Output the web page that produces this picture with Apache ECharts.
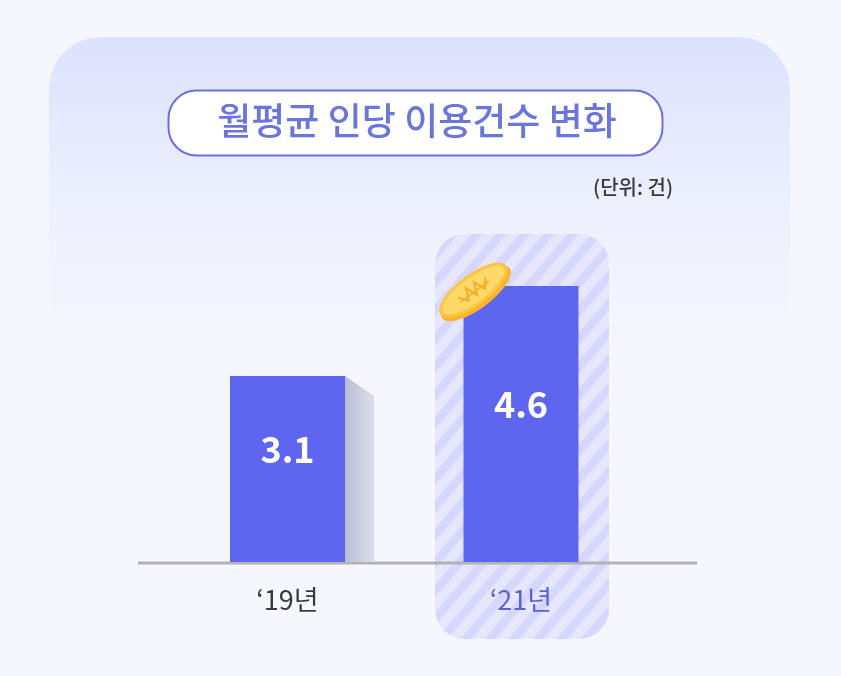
<!DOCTYPE html>
<html>
<head>
<meta charset="utf-8">
<style>
html,body{margin:0;padding:0;background:#f6f7fe;}
#chart{width:841px;height:676px;}
</style>
<script src="https://cdn.jsdelivr.net/npm/echarts@6/dist/echarts.min.js"></script>
</head>
<body>
<div id="chart"></div>
<script>
var categories = ["‘19년", "‘21년"];
var values = [3.1, 4.6];
var sideShade = [3.1, null];
var labelColors = ['#3a3a3c', '#5a61dc'];
var titleText = '월평균 인당 이용건수 변화';
var unitText = '(단위: 건)';

var FONT = '"Noto Sans CJK KR", sans-serif';

// stripe tile for the highlight panel
var tile = document.createElement('canvas');
tile.width = 24;
tile.height = 28;
var t = tile.getContext('2d');
t.fillStyle = '#e6e7fe';
t.fillRect(0, 0, 24, 28);
t.fillStyle = '#d6d7fd';
for (var i = -24; i <= 24; i += 24) {
  t.beginPath();
  t.moveTo(i, 28);
  t.lineTo(i + 24, 0);
  t.lineTo(i + 35, 0);
  t.lineTo(i + 11, 28);
  t.closePath();
  t.fill();
}

var chart = echarts.init(document.getElementById('chart'), null, {renderer: 'canvas'});

chart.setOption({
  backgroundColor: '#f6f7fe',
  animation: false,
  title: [
    {
      text: titleText, left: 417, top: 93, textAlign: 'center', padding: 0,
      textStyle: {fontFamily: FONT, fontSize: 37, fontWeight: 500, color: '#6b76dc', lineHeight: 56}
    },
    {
      text: unitText, left: 673, top: 173, textAlign: 'right', padding: 0,
      textStyle: {fontFamily: FONT, fontSize: 20, fontWeight: 500, color: '#3a3a3c', lineHeight: 28}
    }
  ],
  grid: {left: 170.75, right: 203.25, top: 262, bottom: 114},
  xAxis: {
    type: 'category',
    data: categories,
    z: 5,
    axisLine: {show: false},
    axisTick: {show: false},
    axisLabel: {
      margin: 24,
      fontFamily: FONT,
      fontSize: 27,
      color: function (v, idx) { return labelColors[idx]; }
    }
  },
  yAxis: {type: 'value', min: 0, max: 5, show: false, splitLine: {show: false}},
  graphic: [
    {
      type: 'rect', z: 0, silent: true,
      shape: {x: 49, y: 37, width: 741, height: 310, r: 52},
      style: {
        fill: new echarts.graphic.LinearGradient(0, 0, 0, 1, [
          {offset: 0, color: '#dde2fd'},
          {offset: 0.55, color: '#edf0fd'},
          {offset: 1, color: '#f6f7fe'}
        ])
      }
    },
    {
      type: 'rect', z: 1, silent: true,
      shape: {x: 168.5, y: 90.5, width: 494, height: 65, r: 28},
      style: {fill: '#ffffff', stroke: '#6a70e2', lineWidth: 2}
    },
    {
      type: 'rect', z: 1, silent: true,
      shape: {x: 435, y: 234, width: 174, height: 405, r: 30},
      style: {fill: {image: tile, repeat: 'repeat'}}
    },
    {
      type: 'line', z: 1, silent: true,
      shape: {x1: 138, y1: 563, x2: 697, y2: 563},
      style: {stroke: '#b2b2b4', lineWidth: 3}
    },
    {
      // coin
      type: 'group', x: 473.5, y: 290, rotation: 0.64, z: 10, silent: true,
      children: [
        {type: 'ellipse', z: 10, shape: {cx: 0, cy: 4, rx: 42, ry: 15.5}, style: {fill: '#f8b32f'}},
        {type: 'ellipse', z: 11, shape: {cx: 0, cy: 0, rx: 41, ry: 15.5}, style: {fill: '#fdc540'}},
        {type: 'ellipse', z: 12, shape: {cx: 0, cy: 0, rx: 37.5, ry: 12.5}, style: {fill: '#ffd968'}},
        {
          type: 'polyline', z: 13,
          shape: {points: [[-17, -3], [-10, 6], [-5, -6], [0, 6], [5, -6], [10, 6], [17, -3]]},
          style: {fill: 'none', stroke: '#efae2c', lineWidth: 2}
        },
        {
          type: 'polyline', z: 13,
          shape: {points: [[-18, 2], [18, 2]]},
          style: {fill: 'none', stroke: '#efae2c', lineWidth: 1.5}
        }
      ]
    }
  ],
  series: [
    {
      // side face of the first bar
      type: 'custom',
      z: 1,
      silent: true,
      clip: false,
      data: sideShade,
      renderItem: function (params, api) {
        if (api.value(1) == null || isNaN(api.value(1))) return;
        var top = api.coord([api.value(0), api.value(1)]);
        var base = api.coord([api.value(0), 0]);
        var x = top[0] + 57.5;
        return {
          type: 'polygon',
          shape: {points: [[x, top[1]], [x + 29, top[1] + 20], [x + 29, base[1]], [x, base[1]]]},
          style: {
            fill: new echarts.graphic.LinearGradient(0, 0, 1, 0, [
              {offset: 0, color: '#b9bdd5'},
              {offset: 1, color: '#dcdeec'}
            ])
          }
        };
      }
    },
    {
      type: 'bar',
      z: 3,
      data: values,
      barWidth: 115,
      itemStyle: {color: '#5e66f0'},
      label: {
        show: true,
        position: 'inside',
        offset: [0, -20],
        formatter: function (p) { return p.value.toFixed(1); },
        fontFamily: FONT,
        fontSize: 36,
        fontWeight: 700,
        color: '#ffffff'
      }
    }
  ]
});
</script>
</body>
</html>
